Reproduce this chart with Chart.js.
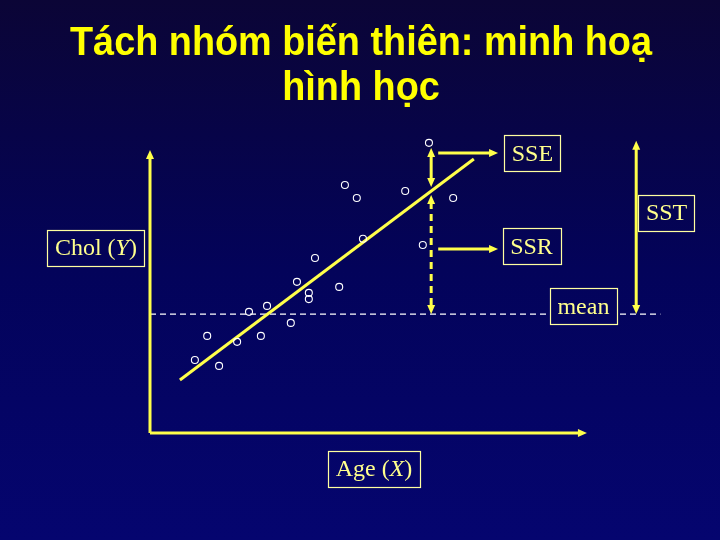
<!DOCTYPE html>
<html>
<head>
<meta charset="utf-8">
<script src="https://cdn.jsdelivr.net/npm/chart.js@4.4.0/dist/chart.umd.min.js"></script>
<style>
  html, body { margin: 0; padding: 0; background: #060450; }
  canvas { display: block; }
</style>
</head>
<body>
<canvas id="chart" width="720" height="540"></canvas>
<script>
// title of the slide
const titleLines = ['Tách nhóm biến thiên: minh hoạ', 'hình học'];

// observed points (Age on x, Chol on y, arbitrary units 0..100)
const ageValues  = [63.4, 44.3, 47.0, 58.0, 68.9, 48.4, 62.0, 37.5, 33.4, 43.0, 36.1, 36.1, 26.6, 22.5, 32.0, 13.0, 19.8, 25.2, 10.2, 15.7];
const cholValues = [102.5, 87.6, 83.0, 85.5, 83.0, 68.6, 66.4, 61.8, 53.4, 51.6, 49.5, 47.3, 44.9, 42.8, 38.9, 34.3, 32.2, 34.3, 25.8, 23.7];

// fitted regression line end points
const fitAge  = [6.8, 73.6];
const fitChol = [18.7, 96.8];

// mean of Chol, and how far the dashed line runs
const meanChol = 42.0;
const meanAge  = [0, 116];

// labels in boxes (*...* = italic part), with their centres
const boxLabels = ['SSE', 'SSR', 'SST', 'mean', 'Chol (*Y*)', 'Age (*X*)'];
const boxAge    = [86.9, 86.7, 117.4, 98.5, -12.3, 50.9];
const boxChol   = [98.8, 65.9, 77.7, 44.7, 65.5, -12.7];

// arrows: [x1, y1, x2, y2, headAtStart, headAtEnd, dashed]
const arrows = [
  [0, 0, 0, 100, false, true, false],         // y axis
  [0, 0, 99.3, 0, false, true, false],        // x axis
  [63.9, 100.7, 63.9, 86.9, true, true, false], // SSE
  [63.9, 84.1, 63.9, meanChol, true, true, true], // SSR
  [110.5, 103.2, 110.5, meanChol, true, true, false], // SST
  [65.5, 98.9, 79.1, 98.9, false, true, false],
  [65.5, 65.0, 79.1, 65.0, false, true, false]
];

const YELLOW = '#ffff4a';
const LABEL = '#ffff8c';

function makeBg(ctx, h) {
  const g = ctx.createLinearGradient(0, 0, 0, h);
  g.addColorStop(0, '#0b0536');
  g.addColorStop(0.5, '#03035a');
  g.addColorStop(1, '#05056f');
  return g;
}

function drawHead(ctx, x, y, ang) {
  const len = 9, half = 4;
  ctx.beginPath();
  ctx.moveTo(x, y);
  ctx.lineTo(x - len * Math.cos(ang) + half * Math.sin(ang), y - len * Math.sin(ang) - half * Math.cos(ang));
  ctx.lineTo(x - len * Math.cos(ang) - half * Math.sin(ang), y - len * Math.sin(ang) + half * Math.cos(ang));
  ctx.closePath();
  ctx.fill();
}

const slidePlugin = {
  id: 'slide',
  beforeDraw(chart) {
    const ctx = chart.ctx;
    ctx.save();
    ctx.fillStyle = makeBg(ctx, chart.height);
    ctx.fillRect(0, 0, chart.width, chart.height);

    // title
    ctx.fillStyle = '#ffff00';
    ctx.font = 'bold 41px "Liberation Sans", Arial, sans-serif';
    ctx.textAlign = 'center';
    ctx.textBaseline = 'alphabetic';
    const w0 = ctx.measureText(titleLines[0]).width;
    const sx = 582 / w0;
    const baselines = [55, 100];
    titleLines.forEach((t, i) => {
      ctx.save();
      ctx.translate(361, baselines[i]);
      ctx.scale(sx, 1);
      ctx.fillText(t, 0, 0);
      ctx.restore();
    });
    ctx.restore();
  },
  afterDatasetsDraw(chart) {
    const ctx = chart.ctx;
    const xs = chart.scales.x, ys = chart.scales.y;
    ctx.save();
    ctx.strokeStyle = YELLOW;
    ctx.fillStyle = YELLOW;
    ctx.lineCap = 'butt';

    arrows.forEach(a => {
      const x1 = xs.getPixelForValue(a[0]), y1 = ys.getPixelForValue(a[1]);
      const x2 = xs.getPixelForValue(a[2]), y2 = ys.getPixelForValue(a[3]);
      const ang = Math.atan2(y2 - y1, x2 - x1);
      const inset = 7;
      const sx1 = a[4] ? x1 + inset * Math.cos(ang) : x1;
      const sy1 = a[4] ? y1 + inset * Math.sin(ang) : y1;
      const sx2 = a[5] ? x2 - inset * Math.cos(ang) : x2;
      const sy2 = a[5] ? y2 - inset * Math.sin(ang) : y2;
      ctx.lineWidth = 3;
      ctx.setLineDash(a[6] ? [7, 5] : []);
      ctx.beginPath();
      ctx.moveTo(sx1, sy1);
      ctx.lineTo(sx2, sy2);
      ctx.stroke();
      ctx.setLineDash([]);
      if (a[5]) drawHead(ctx, x2, y2, ang);
      if (a[4]) drawHead(ctx, x1, y1, ang + Math.PI);
    });

    // label boxes
    const bg = makeBg(ctx, chart.height);
    ctx.textBaseline = 'middle';
    ctx.textAlign = 'left';
    boxLabels.forEach((lab, i) => {
      const parts = lab.split('*');
      const fonts = parts.map((p, k) => (k % 2 ? 'italic ' : '') + '24px "Liberation Serif", "Times New Roman", serif');
      let tw = 0;
      const widths = parts.map((p, k) => { ctx.font = fonts[k]; const w = ctx.measureText(p).width; tw += w; return w; });
      const cx = xs.getPixelForValue(boxAge[i]), cy = ys.getPixelForValue(boxChol[i]);
      const bw = tw + 15, bh = 36;
      ctx.fillStyle = bg;
      ctx.fillRect(cx - bw / 2, cy - bh / 2, bw, bh);
      ctx.strokeStyle = '#ffffa0';
      ctx.lineWidth = 1.2;
      ctx.strokeRect(Math.round(cx - bw / 2) + 0.5, Math.round(cy - bh / 2) + 0.5, Math.round(bw), bh);
      ctx.fillStyle = LABEL;
      let x = cx - tw / 2;
      parts.forEach((p, k) => {
        ctx.font = fonts[k];
        ctx.fillText(p, x, cy + 1);
        x += widths[k];
      });
    });
    ctx.restore();
  }
};

new Chart(document.getElementById('chart'), {
  type: 'scatter',
  data: {
    datasets: [
      {
        label: 'Chol',
        data: ageValues.map((a, i) => ({ x: a, y: cholValues[i] })),
        pointRadius: 3.5,
        pointBorderWidth: 1.1,
        borderColor: '#ffffff',
        backgroundColor: 'rgba(0,0,0,0)',
        clip: false,
        order: 0
      },
      {
        label: 'fit',
        data: fitAge.map((a, i) => ({ x: a, y: fitChol[i] })),
        showLine: true,
        pointRadius: 0,
        borderColor: YELLOW,
        borderWidth: 3,
        clip: false,
        order: 1
      },
      {
        label: 'mean',
        data: meanAge.map(a => ({ x: a, y: meanChol })),
        showLine: true,
        pointRadius: 0,
        borderColor: '#ffffff',
        borderWidth: 1.2,
        borderDash: [6, 4],
        clip: false,
        order: 2
      }
    ]
  },
  options: {
    responsive: false,
    animation: false,
    layout: { padding: { left: 150, right: 130, top: 140, bottom: 107 } },
    scales: {
      x: { type: 'linear', min: 0, max: 100, display: false },
      y: { type: 'linear', min: 0, max: 103.5, display: false }
    },
    plugins: {
      legend: { display: false },
      tooltip: { enabled: false }
    }
  },
  plugins: [slidePlugin]
});
</script>
</body>
</html>
